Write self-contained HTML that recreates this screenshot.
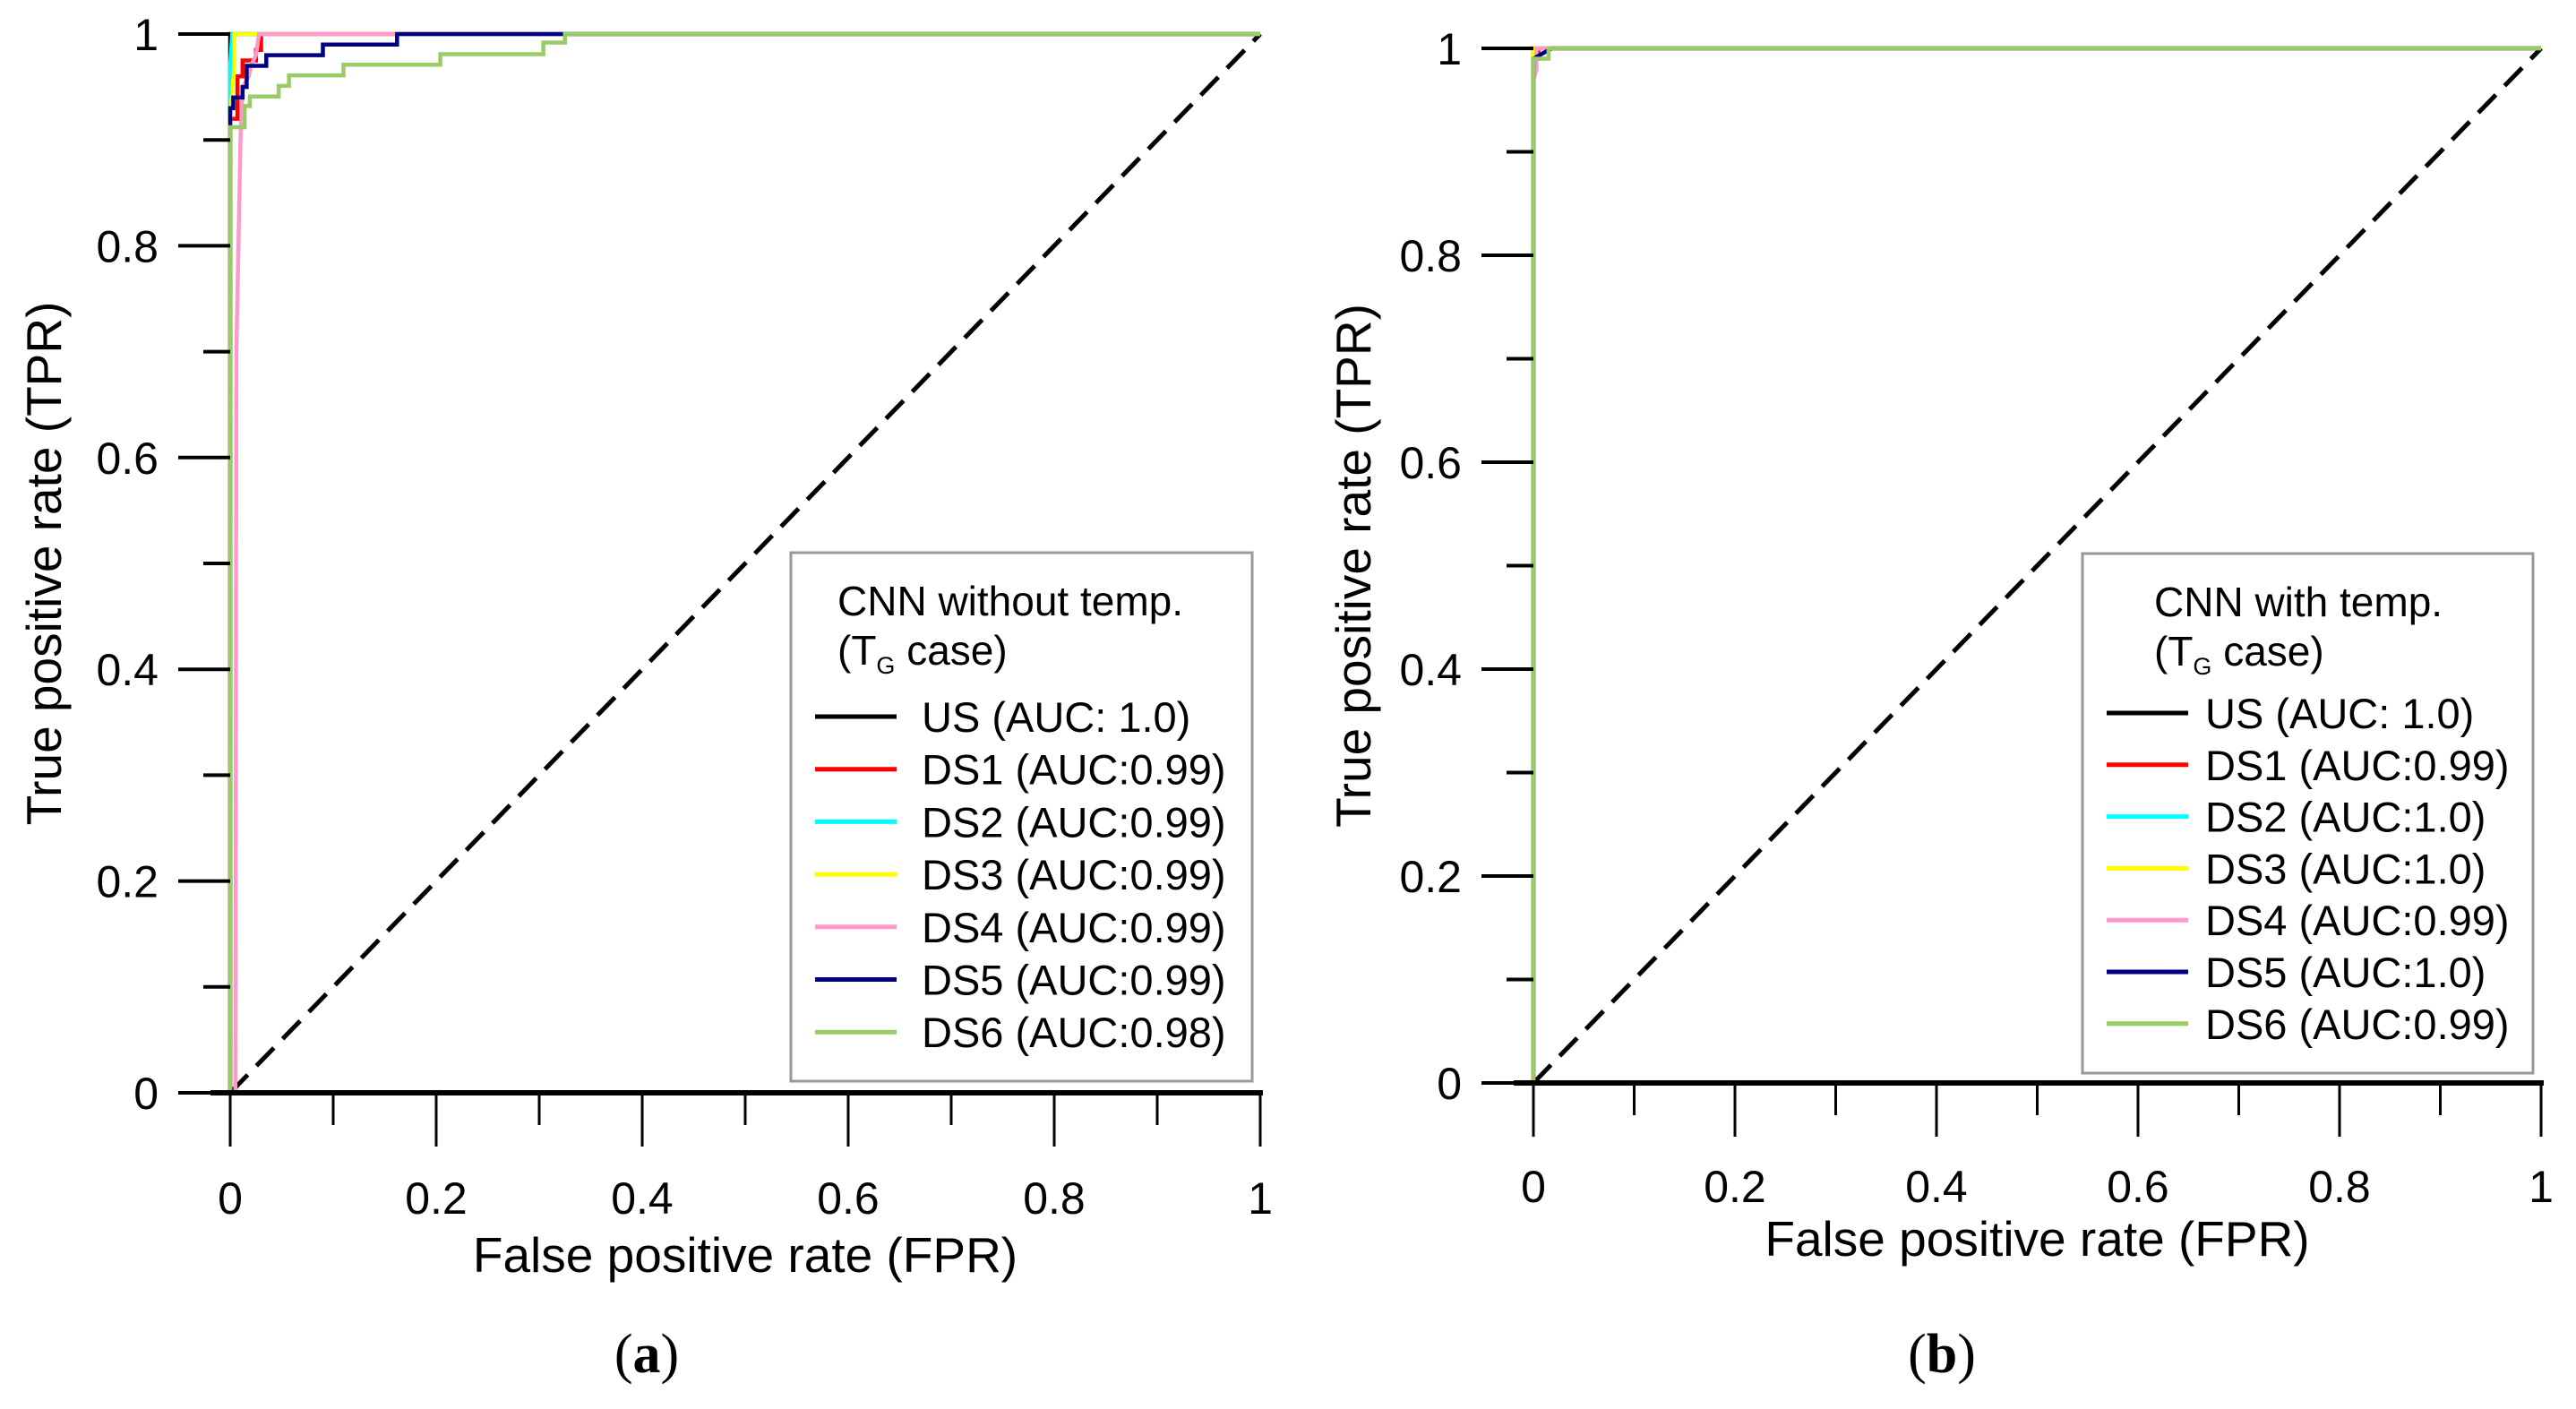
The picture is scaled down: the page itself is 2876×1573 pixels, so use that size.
<!DOCTYPE html>
<html><head><meta charset="utf-8"><style>
html,body{margin:0;padding:0;background:#fff;}
svg{display:block;font-family:"Liberation Sans",Arial,sans-serif;}
</style></head><body>
<svg id="fig" width="2876" height="1573" viewBox="0 0 2876 1573" xmlns="http://www.w3.org/2000/svg"></svg>
<script>
// ---- data ----
const seriesNames = ["US","DS1","DS2","DS3","DS4","DS5","DS6"];
const seriesColors = ["#000000","#ff0000","#00ffff","#ffff00","#ff99cc","#000080","#99cc66"];
const aucA = ["AUC: 1.0","AUC:0.99","AUC:0.99","AUC:0.99","AUC:0.99","AUC:0.99","AUC:0.98"];
const aucB = ["AUC: 1.0","AUC:0.99","AUC:1.0","AUC:1.0","AUC:0.99","AUC:1.0","AUC:0.99"];
const xTickLabels = ["0","0.2","0.4","0.6","0.8","1"];
const yTickLabels = ["0","0.2","0.4","0.6","0.8","1"];
const tickValues = [0,0.2,0.4,0.6,0.8,1];
const minorTickValues = [0.1,0.3,0.5,0.7,0.9];
// panel (a) ROC points
const aUS_fpr  = [0,0,1];            const aUS_tpr  = [0,1,1];
const aDS1_fpr = [0,0,0.007,0.007,0.012,0.012,0.025,0.025,0.03,0.03,1];
const aDS1_tpr = [0,0.92,0.92,0.96,0.96,0.975,0.975,0.985,0.985,1,1];
const aDS2_fpr = [0,0,0.002,1];      const aDS2_tpr = [0,0.97,1,1];
const aDS3_fpr = [0,0,0.004,0.004,1]; const aDS3_tpr = [0,0.92,0.97,1,1];
const aDS4_fpr = [0,0.005,0.006,0.01,0.012,0.018,0.02,0.025,0.028,1];
const aDS4_tpr = [0,0,0.7,0.9,0.95,0.96,0.97,0.98,1,1];
const aDS5_fpr = [0,0,0.003,0.003,0.012,0.012,0.016,0.016,0.035,0.035,0.09,0.09,0.162,0.162,1];
const aDS5_tpr = [0,0.93,0.93,0.94,0.94,0.95,0.95,0.97,0.97,0.98,0.98,0.99,0.99,1,1];
const aDS6_fpr = [0,0,0.014,0.014,0.019,0.019,0.047,0.047,0.057,0.057,0.11,0.11,0.204,0.204,0.304,0.304,0.325,0.325,1];
const aDS6_tpr = [0,0.912,0.912,0.932,0.932,0.941,0.941,0.951,0.951,0.961,0.961,0.971,0.971,0.981,0.981,0.992,0.992,1,1];
// panel (b) ROC points
const bUS_fpr  = [0,0,1];        const bUS_tpr  = [0,1,1];
const bDS1_fpr = [0,0,0.005,0.005,1]; const bDS1_tpr = [0,0.99,0.99,1,1];
const bDS2_fpr = [0,0,1];        const bDS2_tpr = [0,1,1];
const bDS3_fpr = [0,0,1];        const bDS3_tpr = [0,1,1];
const bDS4_fpr = [0,0,0.003,0.003,1]; const bDS4_tpr = [0,0.97,0.98,1,1];
const bDS5_fpr = [0,0,0.018,1];  const bDS5_tpr = [0,0.99,1,1];
const bDS6_fpr = [0,0,0.015,0.015,1]; const bDS6_tpr = [0,0.99,0.99,1,1];

const NS="http://www.w3.org/2000/svg";
const svg=document.getElementById('fig');
function mk(tag,attrs,parent){const e=document.createElementNS(NS,tag);for(const k in attrs)e.setAttribute(k,attrs[k]);(parent||svg).appendChild(e);return e;}

function panel(p){
  const g=mk('g',{});
  
  
  const sx=v=>p.x0+v*(p.x1-p.x0), sy=v=>p.y0-v*(p.y0-p.y1);
  const d=mk('line',{x1:sx(0),y1:sy(0),x2:sx(1),y2:sy(1),stroke:'#000','stroke-width':5,'stroke-dasharray':'28 14'},g);
  
  
  const ya=mk('line',{x1:sx(0),y1:sy(0),x2:sx(0),y2:sy(1),stroke:'#000','stroke-width':3},g);
  
  
  p.series.forEach((s,i)=>{
    const pts=s[0].map((f,j)=>sx(f).toFixed(1)+','+sy(s[1][j]).toFixed(1)).join(' ');
    const pl=mk('polyline',{points:pts,fill:'none',stroke:seriesColors[i],'stroke-width':4.5,'stroke-linejoin':'miter'},g);
    
    
  });
  const xa=mk('line',{x1:sx(0)-22,y1:sy(0),x2:sx(1)+3,y2:sy(0),stroke:'#000','stroke-width':6},g);
  
  
  tickValues.forEach((v,i)=>{
    const t=mk('line',{x1:sx(v),y1:sy(0),x2:sx(v),y2:sy(0)+60,stroke:'#000','stroke-width':3},g);
    
    
    const l=mk('text',{x:sx(v),y:sy(0)+p.xLabOff,'font-size':50,'text-anchor':'middle'},g);
    l.textContent=xTickLabels[i];
    
    
    const yt=mk('line',{x1:sx(0)-58,y1:sy(v),x2:sx(0),y2:sy(v),stroke:'#000','stroke-width':4},g);
    
    
    const yl=mk('text',{x:sx(0)-80,y:sy(v)+18,'font-size':50,'text-anchor':'end'},g);
    yl.textContent=yTickLabels[i];
    
    
  });
  minorTickValues.forEach(v=>{
    const t=mk('line',{x1:sx(v),y1:sy(0),x2:sx(v),y2:sy(0)+36,stroke:'#000','stroke-width':3},g);
    
    
    const yt=mk('line',{x1:sx(0)-30,y1:sy(v),x2:sx(0),y2:sy(v),stroke:'#000','stroke-width':4},g);
    
    
  });
  const xt=mk('text',{x:(sx(0)+sx(1))/2,y:p.xTitleY,'font-size':55,'text-anchor':'middle'},g);
  xt.textContent='False positive rate (FPR)';
  
  
  const yT=mk('text',{x:0,y:0,'font-size':55,'text-anchor':'middle',transform:'translate('+p.yTitleX+','+((sy(0)+sy(1))/2)+') rotate(-90)'},g);
  yT.textContent='True positive rate (TPR)';
  
  
  const L=p.leg;
  const lg=mk('g',{},g);
  
  
  mk('rect',{x:L.x,y:L.y,width:L.w,height:L.h,fill:'#fff',stroke:'#999','stroke-width':3},lg);
  const t1=mk('text',{x:L.x+L.tx,y:L.y+70,'font-size':46},lg);
  t1.textContent=p.title;
  
  
  const t2=mk('text',{x:L.x+L.tx,y:L.y+125,'font-size':46},lg);
  t2.innerHTML='(T<tspan font-size="27" dy="10">G</tspan><tspan dy="-10"> case)</tspan>';
  
  
  seriesNames.forEach((n,i)=>{
    const cy=L.y+L.first+i*L.step;
    const ln=mk('line',{x1:L.x+27,y1:cy,x2:L.x+118,y2:cy,stroke:seriesColors[i],'stroke-width':5},lg);
    
    
    const tx=mk('text',{x:L.x+L.ex,y:cy+17,'font-size':47},lg);
    tx.textContent=n+' ('+p.auc[i]+')';
    
    
  });
  const cap=mk('text',{x:p.capX,y:1532,'font-size':62,'font-family':'Liberation Serif, serif','text-anchor':'middle'},g);
  cap.innerHTML='(<tspan font-weight="bold">'+p.id.slice(-1)+'</tspan>)';
  
  
}

panel({id:'panel-a',x0:257,x1:1407,y0:1220,y1:38,xLabOff:135,xTitleY:1420,yTitleX:68,capX:722,title:'CNN without temp.',auc:aucA,
  leg:{x:883,y:617,w:515,h:590,tx:52,ex:146,first:183,step:58.7},
  series:[[aUS_fpr,aUS_tpr],[aDS1_fpr,aDS1_tpr],[aDS2_fpr,aDS2_tpr],[aDS3_fpr,aDS3_tpr],[aDS4_fpr,aDS4_tpr],[aDS5_fpr,aDS5_tpr],[aDS6_fpr,aDS6_tpr]]});
panel({id:'panel-b',x0:1712,x1:2837,y0:1209,y1:54,xLabOff:133,xTitleY:1402,yTitleX:1530,capX:2168,title:'CNN with temp.',auc:aucB,
  leg:{x:2325,y:618,w:503,h:580,tx:80,ex:137,first:178,step:57.8},
  series:[[bUS_fpr,bUS_tpr],[bDS1_fpr,bDS1_tpr],[bDS2_fpr,bDS2_tpr],[bDS3_fpr,bDS3_tpr],[bDS4_fpr,bDS4_tpr],[bDS5_fpr,bDS5_tpr],[bDS6_fpr,bDS6_tpr]]});
</script>
</body></html>
